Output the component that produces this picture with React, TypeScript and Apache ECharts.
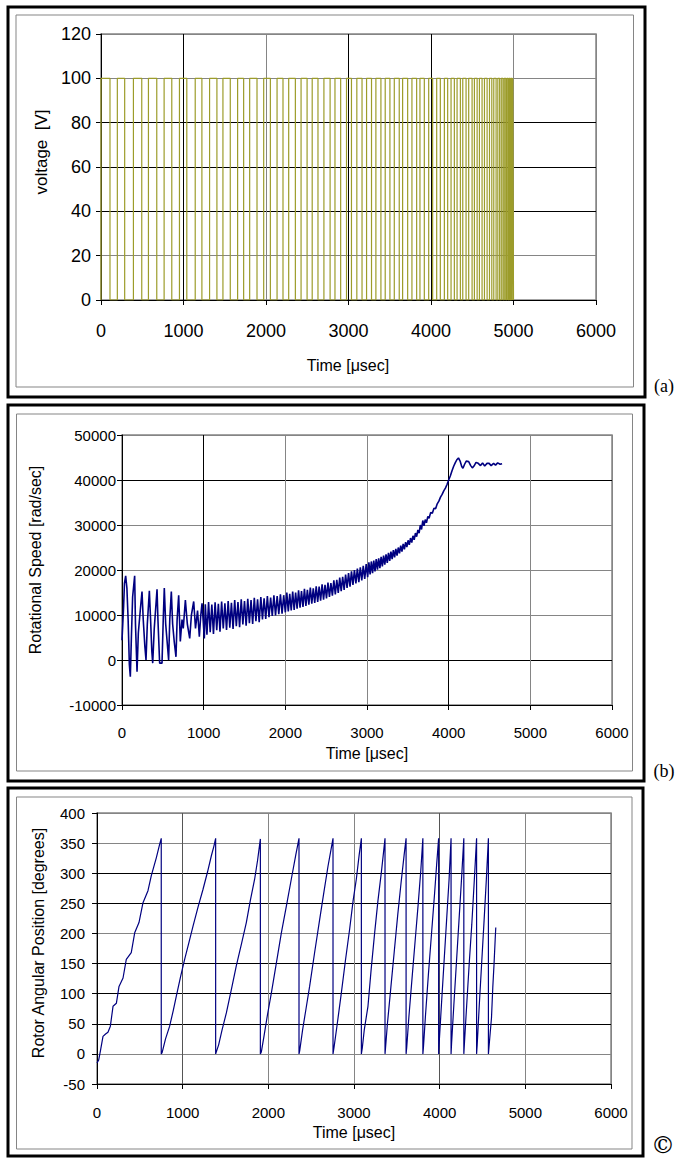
import React, { useEffect, useRef } from "react";
import * as echarts from "echarts";

// ---- Panel (a): voltage pulse train (rising / falling edge times, μs) ----
const pulseOn = [0, 198, 393, 575, 765, 951, 1142, 1316, 1478, 1656, 1802, 1972, 2134, 2275, 2425, 2560, 2702, 2836, 2976, 3101, 3219, 3332, 3445, 3555, 3656, 3769, 3866, 3972, 4069, 4162, 4243, 4316, 4385, 4457, 4526, 4587, 4648, 4709, 4761, 4810, 4852, 4888, 4920, 4948, 4972, 4992];
const pulseOff = [109, 287, 494, 676, 858, 1040, 1223, 1405, 1567, 1729, 1891, 2053, 2206, 2356, 2498, 2630, 2777, 2905, 3036, 3164, 3279, 3393, 3502, 3615, 3717, 3826, 3919, 4020, 4113, 4202, 4283, 4356, 4425, 4498, 4559, 4619, 4680, 4737, 4789, 4832, 4872, 4906, 4936, 4962, 4984, 5000];
const pulseHigh = 100;

// ---- Panel (b): rotational speed [rad/sec] ----
const speedPoints: [number, number][] = [
  [0, 4400], [20, 12000], [30, 17000], [45, 18700], [60, 16000], [75, 9000], [90, -1000], [102, -3700], [115, 5000], [130, 14000],
  [155, 18700], [165, 8000], [184, -2600], [200, 6000], [224, 11100], [245, 15200], [260, 9000], [280, 3000], [294, 0], [310, 8000],
  [335, 15400], [350, 9000], [365, 2000], [376, -700], [395, 7000], [429, 15700], [440, 9000], [461, -700], [490, -700], [505, 9000],
  [518, 16000], [535, 8000], [571, 0], [585, 9000], [604, 15200], [620, 8000], [640, 4000], [661, 700], [675, 9000], [694, 14400],
  [714, 4100], [735, 9000], [750, 7000], [776, 13300], [800, 8000], [829, 4800], [850, 10000], [878, 13000], [900, 7000], [925, 11000],
  [947, 5200], [965, 10000], [980, 12600], [1008, 4800],
  [1020, 12400], [1040, 5600], [1060, 12900], [1080, 6200], [1100, 12300], [1120, 5800], [1140, 12800], [1160, 6600], [1180, 12500], [1200, 6300],
  [1220, 13000], [1240, 7000], [1260, 12600], [1280, 6700], [1300, 13100], [1320, 7200], [1340, 12700], [1360, 6900], [1380, 13300], [1400, 7500],
  [1420, 12900], [1440, 7300], [1460, 13500], [1480, 7900], [1500, 13100], [1520, 7600], [1540, 13600], [1560, 8200], [1580, 13300], [1600, 8000],
  [1620, 13800], [1640, 8600], [1660, 13500], [1680, 8400], [1700, 14000], [1720, 9000], [1740, 13700], [1760, 9100], [1780, 14200], [1800, 9500],
  [1820, 13900], [1840, 9800], [1860, 14400], [1880, 9900], [1900, 14200], [1920, 10200], [1940, 14600], [1960, 10300], [1980, 14400], [2000, 10600],
  [2018, 15000], [2036, 10800], [2054, 14700], [2072, 11000], [2090, 15200], [2108, 11100], [2126, 15000], [2144, 11400], [2162, 15500], [2180, 11600],
  [2198, 15300], [2216, 11800], [2234, 15800], [2252, 12000], [2270, 15600], [2288, 12300], [2306, 16100], [2324, 12500], [2342, 15900], [2360, 12700],
  [2378, 16400], [2396, 12900], [2414, 16300], [2432, 13200], [2450, 16800], [2468, 13400], [2486, 16700], [2504, 13700], [2522, 17200], [2540, 14000],
  [2558, 17100], [2576, 14300], [2594, 17700], [2612, 14600], [2630, 17800], [2648, 14900], [2666, 18300], [2684, 15300], [2702, 18500], [2720, 15600],
  [2738, 19000], [2756, 16000], [2774, 19300], [2792, 16300], [2810, 19700], [2828, 16700], [2846, 20000], [2864, 17000], [2882, 20300], [2900, 17300],
  [2918, 20600], [2936, 17700], [2954, 20900], [2972, 18000], [2990, 21300], [3008, 18400],
  [3023, 21700], [3038, 19000], [3053, 21900], [3068, 19300], [3083, 22100], [3098, 19700], [3113, 22400], [3128, 20100], [3143, 22600], [3158, 20400],
  [3173, 22900], [3188, 20800], [3203, 23200], [3218, 21200], [3233, 23500], [3248, 21600], [3263, 23800], [3278, 22000], [3293, 24100], [3308, 22400],
  [3323, 24400], [3338, 22800], [3353, 24700], [3368, 23200], [3383, 25000], [3398, 23700], [3413, 25400], [3428, 24100], [3443, 25800], [3458, 24600],
  [3473, 26200], [3488, 25100], [3503, 26600], [3518, 25600], [3533, 27100], [3548, 26100], [3563, 27600], [3578, 26700], [3593, 28200], [3608, 27400],
  [3623, 28900], [3638, 28200], [3653, 30000], [3668, 29000], [3683, 31000], [3698, 29800], [3713, 31200], [3728, 30500], [3745, 31900], [3760, 31500],
  [3780, 32800], [3800, 32600], [3820, 33700], [3840, 33600], [3860, 34700], [3880, 35300], [3900, 36200], [3920, 36800], [3940, 37600], [3960, 38200],
  [3980, 39000], [4000, 40000], [4020, 40900], [4040, 42000], [4060, 43000], [4080, 43800], [4100, 44500], [4120, 44900], [4140, 44200], [4160, 43000],
  [4175, 42600], [4195, 43500], [4215, 44200], [4245, 44100], [4270, 43200], [4290, 42700], [4310, 43100], [4335, 43900], [4362, 43700], [4390, 43200],
  [4415, 43800], [4441, 43100], [4470, 43700], [4495, 43700], [4520, 43200], [4550, 43700], [4574, 43300], [4600, 43800], [4630, 43500], [4654, 43600],
];

// ---- Panel (c): rotor angular position [degrees] ----
const anglePoints: [number, number][] = [
  [0, -15], [20, -10], [40, 5], [70, 29], [100, 33], [128, 36], [156, 46], [187, 79], [226, 84], [257, 112],
  [304, 126], [342, 157], [400, 168], [440, 201], [490, 218], [537, 251], [595, 271], [634, 296], [693, 326], [731, 348], [750, 358], [750, 0],
  [760, 2], [800, 25], [848, 46], [890, 72], [926, 96], [975, 128], [1023, 157], [1075, 186], [1121, 212], [1180, 244], [1237, 273], [1290, 302], [1335, 329], [1365, 345], [1385, 358], [1385, 0],
  [1390, 2], [1420, 15], [1460, 40], [1510, 68], [1570, 108], [1626, 146], [1685, 182], [1743, 218], [1790, 255], [1840, 290], [1875, 322], [1907, 357], [1907, 0],
  [1918, 3], [1950, 30], [1990, 65], [2035, 101], [2095, 152], [2152, 201], [2210, 245], [2268, 290], [2320, 330], [2358, 358], [2358, 0],
  [2366, 5], [2400, 40], [2440, 75], [2482, 112], [2540, 168], [2599, 223], [2650, 270], [2697, 312], [2730, 338], [2755, 358], [2755, 0],
  [2766, 10], [2800, 45], [2852, 101], [2900, 155], [2949, 207], [2990, 255], [3027, 290], [3060, 330], [3086, 358], [3086, 0],
  [3097, 10], [3120, 40], [3163, 79], [3200, 140], [3241, 201], [3280, 255], [3319, 301], [3345, 335], [3362, 358], [3362, 0],
  [3368, 10], [3390, 50], [3430, 110], [3470, 170], [3510, 230], [3550, 285], [3585, 330], [3608, 358], [3608, 0],
  [3615, 10], [3640, 60], [3680, 130], [3715, 190], [3750, 250], [3780, 305], [3804, 358], [3804, 0],
  [3810, 10], [3835, 65], [3870, 135], [3905, 200], [3940, 265], [3965, 315], [3988, 358], [3988, 0],
  [3995, 20], [4020, 80], [4050, 150], [4080, 220], [4110, 290], [4133, 358], [4133, 0],
  [4140, 20], [4165, 80], [4195, 150], [4225, 220], [4255, 290], [4282, 358], [4282, 0],
  [4290, 20], [4315, 80], [4345, 150], [4375, 215], [4405, 290], [4431, 358], [4431, 0],
  [4438, 15], [4462, 80], [4490, 150], [4518, 220], [4545, 290], [4569, 358], [4569, 0],
  [4575, 10], [4590, 35], [4605, 60], [4620, 110], [4635, 150], [4648, 190], [4655, 210],
];

const panelLabels = ["(a)", "(b)", "©"];
const xTitle = "Time [μsec]";
const yTitles = ["voltage  [V]", "Rotational Speed [rad/sec]", "Rotor Angular Position [degrees]"];

const FONT = "Liberation Sans";
const BLACK = "#000";
const GRAY = "#858585";

export default function App() {
  const ref = useRef<HTMLDivElement>(null);

  useEffect(() => {
    if (!ref.current) return;
    const chart = echarts.init(ref.current, undefined, { renderer: "svg" });

    const voltageData: [number, number][] = [];
    pulseOn.forEach((on, i) => {
      const off = pulseOff[i];
      voltageData.push([on, 0], [on, pulseHigh], [off, pulseHigh], [off, 0]);
    });

    const plain = (v: number) => String(v);

    const mkX = (gridIndex: number, fontSize: number, margin: number, splitColors: string[]) => ({
      type: "value",
      gridIndex,
      min: 0,
      max: 6000,
      interval: 1000,
      axisLine: { show: true, onZero: false, lineStyle: { color: BLACK, width: 1 } },
      axisTick: { show: true, length: 5, lineStyle: { color: BLACK } },
      axisLabel: { color: BLACK, fontSize, fontFamily: FONT, margin, formatter: plain },
      splitLine: { show: true, lineStyle: { color: splitColors, width: 1 } },
    });
    const mkY = (gridIndex: number, min: number, max: number, interval: number, fontSize: number, margin: number, splitColors: string[]) => ({
      type: "value",
      gridIndex,
      min,
      max,
      interval,
      axisLine: { show: true, onZero: false, lineStyle: { color: BLACK, width: 1 } },
      axisTick: { show: true, length: 5, lineStyle: { color: BLACK } },
      axisLabel: { color: BLACK, fontSize, fontFamily: FONT, margin, formatter: plain },
      splitLine: { show: true, lineStyle: { color: splitColors, width: 1 } },
    });

    const frame = (x: number, y: number, w: number, h: number, stroke: string, lw: number) => ({
      type: "rect",
      shape: { x, y, width: w, height: h },
      style: { fill: "none", stroke, lineWidth: lw },
      silent: true,
    });
    const text = (x: number, y: number, t: string, fontSize: number, rotation = 0, family = FONT) => ({
      type: "text",
      x,
      y,
      rotation,
      style: { text: t, fontSize, fontFamily: family, fill: BLACK, align: "center", verticalAlign: "middle" },
      silent: true,
    });

    chart.setOption({
      animation: false,
      backgroundColor: "#fff",
      grid: [
        { left: 101, top: 34, width: 495, height: 266, show: true, borderColor: GRAY, borderWidth: 1.5, backgroundColor: "transparent" },
        { left: 122, top: 435, width: 490, height: 270, show: true, borderColor: GRAY, borderWidth: 1.5, backgroundColor: "transparent" },
        { left: 97, top: 813, width: 514, height: 271, show: true, borderColor: GRAY, borderWidth: 1.5, backgroundColor: "transparent" },
      ],
      xAxis: [
        mkX(0, 18, 22, [BLACK, BLACK, GRAY, BLACK, BLACK, GRAY, GRAY]),
        mkX(1, 15, 20, [BLACK, BLACK, GRAY, GRAY, BLACK, GRAY, GRAY]),
        mkX(2, 15, 21, [GRAY, "#555", GRAY, GRAY, "#555", GRAY, GRAY]),
      ],
      yAxis: [
        mkY(0, 0, 120, 20, 18, 10, [BLACK, GRAY, BLACK, BLACK, BLACK, GRAY, GRAY]),
        mkY(1, -10000, 50000, 10000, 15, 6, [GRAY, BLACK, GRAY, GRAY, GRAY, BLACK, GRAY]),
        mkY(2, -50, 400, 50, 15, 12, [BLACK, GRAY, BLACK, BLACK, BLACK, GRAY, BLACK, BLACK, GRAY, GRAY]),
      ],
      series: [
        {
          type: "line",
          xAxisIndex: 0,
          yAxisIndex: 0,
          data: voltageData,
          showSymbol: false,
          lineStyle: { color: "#9c9c2a", width: 1.2 },
          silent: true,
        },
        {
          type: "line",
          xAxisIndex: 1,
          yAxisIndex: 1,
          data: speedPoints,
          showSymbol: false,
          lineStyle: { color: "#000080", width: 1.6 },
          silent: true,
        },
        {
          type: "line",
          xAxisIndex: 2,
          yAxisIndex: 2,
          data: anglePoints,
          showSymbol: false,
          lineStyle: { color: "#000080", width: 1.2 },
          silent: true,
        },
      ],
      graphic: [
        frame(8, 7, 637, 390, BLACK, 3),
        frame(16, 15, 617.5, 372, GRAY, 1),
        frame(8, 405, 636, 376, BLACK, 3),
        frame(16.5, 414, 616, 357, GRAY, 1),
        frame(8, 788, 635, 368, BLACK, 3),
        frame(16.5, 797, 615.5, 352, GRAY, 1),
        text(348, 365, xTitle, 16),
        text(367, 753, xTitle, 16),
        text(354, 1132, xTitle, 16),
        text(41, 152, yTitles[0], 17, Math.PI / 2),
        text(35, 560, yTitles[1], 16, Math.PI / 2),
        text(38, 943, yTitles[2], 16, Math.PI / 2),
        text(664, 386, panelLabels[0], 18, 0, "Liberation Serif"),
        text(664, 771, panelLabels[1], 18, 0, "Liberation Serif"),
        text(663, 1145, panelLabels[2], 24, 0, "DejaVu Serif"),
      ],
    });

    return () => chart.dispose();
  }, []);

  return (
    <div
      ref={ref}
      style={{ position: "absolute", left: 0, top: 0, width: 681, height: 1160, background: "#fff" }}
    />
  );
}
